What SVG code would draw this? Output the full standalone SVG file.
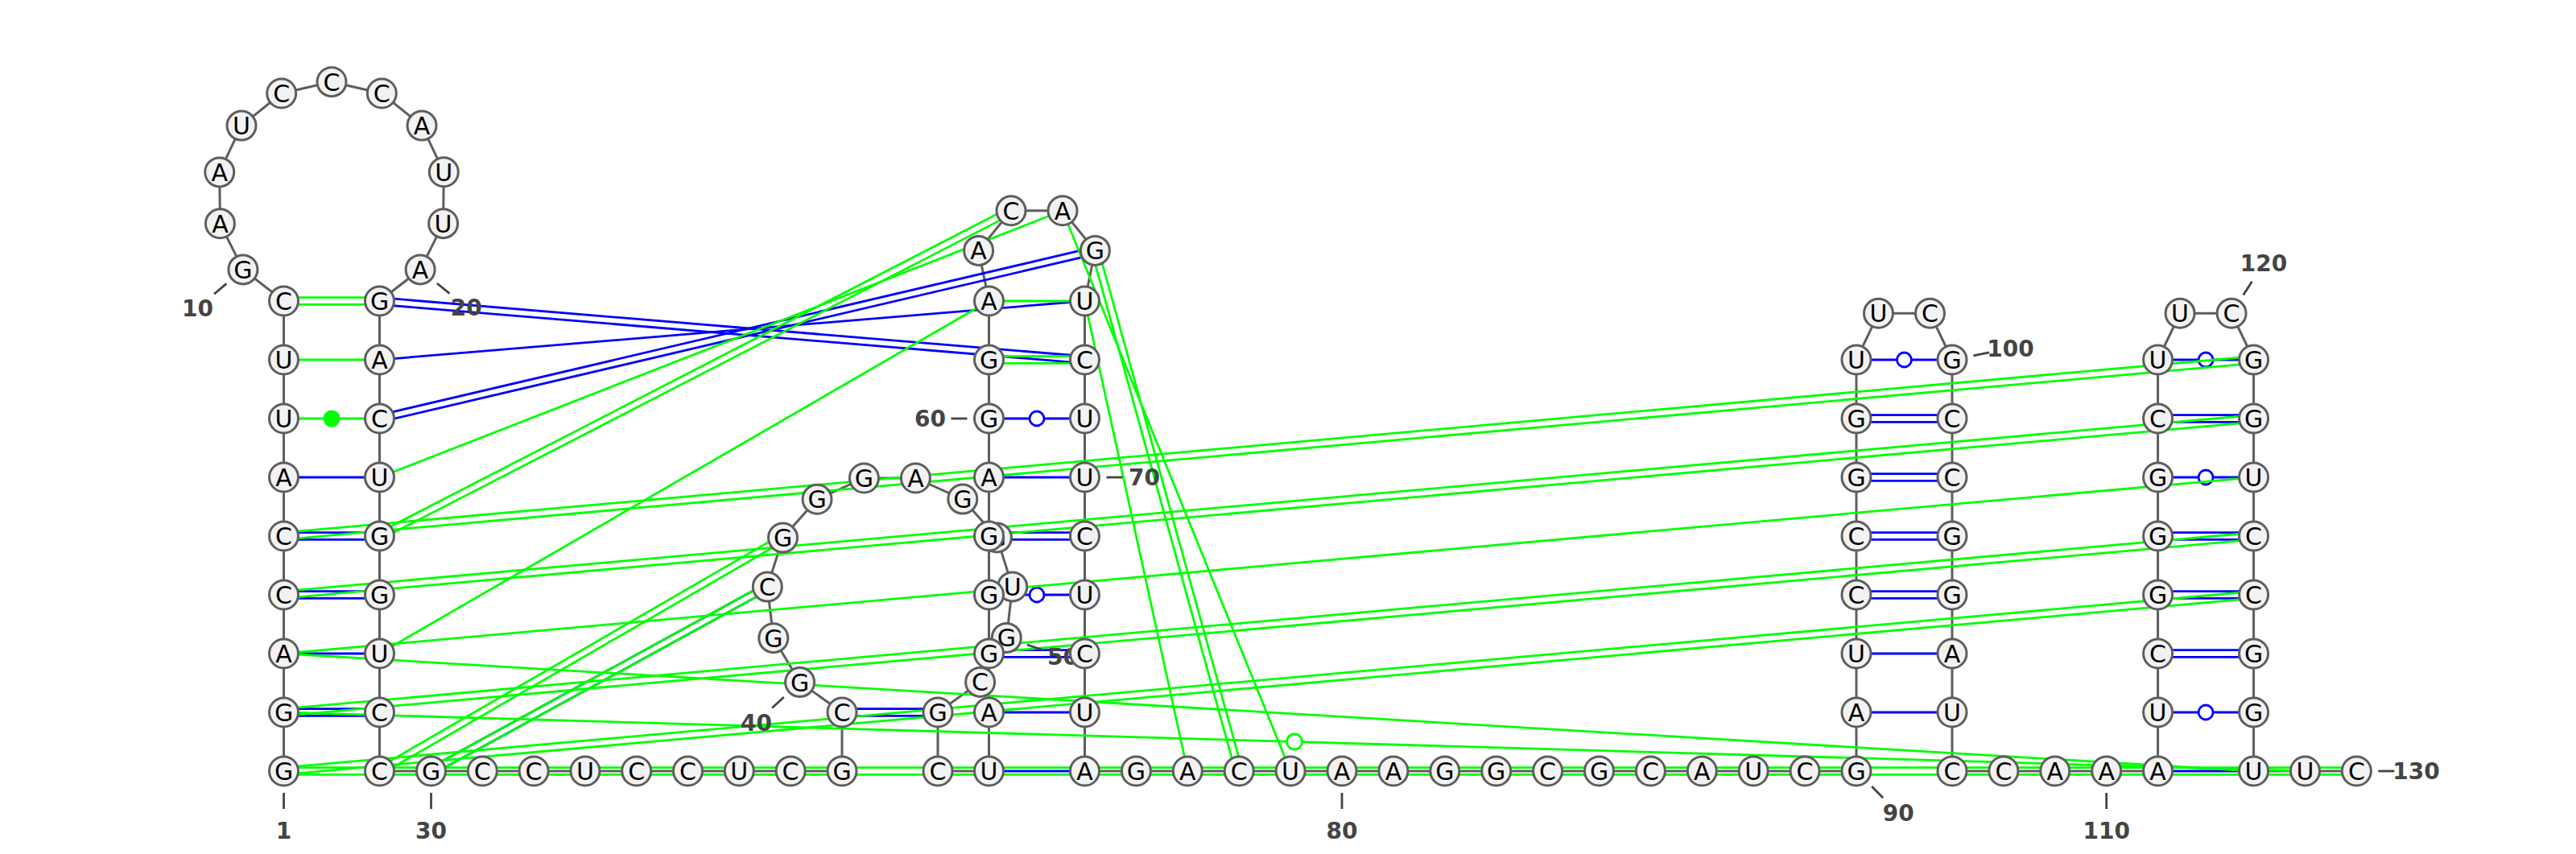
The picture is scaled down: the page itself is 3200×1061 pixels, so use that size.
<svg xmlns="http://www.w3.org/2000/svg" width="3200" height="1061" viewBox="0 0 3200 1061">
<style>
.bb{fill:none;stroke:#5e5e5e;stroke-width:3;stroke-linejoin:round}
.b line{stroke:#0000ff;stroke-width:2.8}
.g line{stroke:#00ff00;stroke-width:2.8}
.b circle{fill:#fff;stroke:#0000ff;stroke-width:2.8}
.g circle.o{fill:#fff;stroke:#00ff00;stroke-width:2.8}
.g circle.f{fill:#00ff00;stroke:none}
.tk line{stroke:#444;stroke-width:2.8}
.lb text{font-family:"DejaVu Sans","Liberation Sans",sans-serif;font-size:28px;font-weight:bold;fill:#444;text-anchor:middle}
.nd circle{fill:#f2f2f2;stroke:#5e5e5e;stroke-width:3}
.nd text{font-family:"DejaVu Sans","Liberation Sans",sans-serif;font-size:30px;fill:#000;text-anchor:middle}
</style>
<rect width="3200" height="1061" fill="#fff"/>
<g id="backbone">
<polyline class="bb" points="352.5,958 352.5,885 352.5,812 352.5,739 352.5,666 352.5,593 352.5,520 352.5,447 352.5,374 301.9,334.9 273.4,277.8 272.7,213.9 300,156.1 349.7,116 412,101.7 474.3,116 524,156.1 551.3,213.8 550.6,277.7 522.1,334.9 471.5,374 471.5,447 471.5,520 471.5,593 471.5,666 471.5,739 471.5,812 471.5,885 471.5,958 535.5,958 599.3,958 663.1,958 726.9,958 790.7,958 854.5,958 918.3,958 982.1,958 1046,958 1046,885 993.6,847.6 960.8,792.7 953.3,729.1 972.5,668.1 1015,620.3 1073.4,594 1137.4,594 1195.8,620.1 1238.4,667.9 1257.7,728.9 1250.3,792.4 1217.6,847.4 1165,885 1165,958 1228.5,958 1228.5,885 1228.5,812 1228.5,739 1228.5,666 1228.5,593 1228.5,520 1228.5,447 1228.5,374 1215.6,311.4 1256,261.8 1320,261.8 1360.4,311.4 1347.5,374 1347.5,447 1347.5,520 1347.5,593 1347.5,666 1347.5,739 1347.5,812 1347.5,885 1347.5,958 1411.4,958 1475.3,958 1539.2,958 1603.1,958 1667,958 1730.9,958 1794.8,958 1858.7,958 1922.6,958 1986.5,958 2050.4,958 2114.3,958 2178.2,958 2242.1,958 2306,958 2306,885 2306,812 2306,739 2306,666 2306,593 2306,520 2306,447 2333.5,389.3 2397.5,389.3 2425,447 2425,520 2425,593 2425,666 2425,739 2425,812 2425,885 2425,958 2488.9,958 2552.8,958 2616.7,958 2680.6,958 2680.6,885 2680.6,812 2680.6,739 2680.6,666 2680.6,593 2680.6,520 2680.6,447 2708.1,389.3 2772.1,389.3 2799.6,447 2799.6,520 2799.6,593 2799.6,666 2799.6,739 2799.6,812 2799.6,885 2799.6,958 2863.5,958 2927.4,958"/>
</g>
<g id="connectors">
<g class="b">
<line x1="352.5" y1="880.7" x2="471.5" y2="880.7"/><line x1="352.5" y1="889.3" x2="471.5" y2="889.3"/>
<line x1="352.5" y1="812" x2="471.5" y2="812"/>
<line x1="352.5" y1="734.7" x2="471.5" y2="734.7"/><line x1="352.5" y1="743.3" x2="471.5" y2="743.3"/>
<line x1="352.5" y1="661.7" x2="471.5" y2="661.7"/><line x1="352.5" y1="670.3" x2="471.5" y2="670.3"/>
<line x1="352.5" y1="593" x2="471.5" y2="593"/>
<line x1="471.14" y1="378.29" x2="1347.14" y2="451.29"/><line x1="471.86" y1="369.72" x2="1347.86" y2="442.72"/>
<line x1="471.5" y1="447" x2="1347.5" y2="374"/>
<line x1="472.48" y1="524.19" x2="1361.38" y2="315.59"/><line x1="470.52" y1="515.81" x2="1359.42" y2="307.21"/>
<line x1="537.57" y1="961.77" x2="955.37" y2="732.87"/><line x1="533.43" y1="954.23" x2="951.23" y2="725.33"/>
<line x1="1046" y1="880.7" x2="1165" y2="880.7"/><line x1="1046" y1="889.3" x2="1165" y2="889.3"/>
<line x1="1228.5" y1="958" x2="1347.5" y2="958"/>
<line x1="1228.5" y1="885" x2="1347.5" y2="885"/>
<line x1="1228.5" y1="807.7" x2="1347.5" y2="807.7"/><line x1="1228.5" y1="816.3" x2="1347.5" y2="816.3"/>
<line x1="1228.5" y1="739" x2="1347.5" y2="739"/><circle cx="1288" cy="739" r="9"/>
<line x1="1228.5" y1="661.7" x2="1347.5" y2="661.7"/><line x1="1228.5" y1="670.3" x2="1347.5" y2="670.3"/>
<line x1="1228.5" y1="593" x2="1347.5" y2="593"/>
<line x1="1228.5" y1="520" x2="1347.5" y2="520"/><circle cx="1288" cy="520" r="9"/>
<line x1="2306" y1="885" x2="2425" y2="885"/>
<line x1="2306" y1="812" x2="2425" y2="812"/>
<line x1="2306" y1="734.7" x2="2425" y2="734.7"/><line x1="2306" y1="743.3" x2="2425" y2="743.3"/>
<line x1="2306" y1="661.7" x2="2425" y2="661.7"/><line x1="2306" y1="670.3" x2="2425" y2="670.3"/>
<line x1="2306" y1="588.7" x2="2425" y2="588.7"/><line x1="2306" y1="597.3" x2="2425" y2="597.3"/>
<line x1="2306" y1="515.7" x2="2425" y2="515.7"/><line x1="2306" y1="524.3" x2="2425" y2="524.3"/>
<line x1="2306" y1="447" x2="2425" y2="447"/><circle cx="2365.5" cy="447" r="9"/>
<line x1="2680.6" y1="958" x2="2799.6" y2="958"/>
<line x1="2680.6" y1="885" x2="2799.6" y2="885"/><circle cx="2740.1" cy="885" r="9"/>
<line x1="2680.6" y1="807.7" x2="2799.6" y2="807.7"/><line x1="2680.6" y1="816.3" x2="2799.6" y2="816.3"/>
<line x1="2680.6" y1="734.7" x2="2799.6" y2="734.7"/><line x1="2680.6" y1="743.3" x2="2799.6" y2="743.3"/>
<line x1="2680.6" y1="661.7" x2="2799.6" y2="661.7"/><line x1="2680.6" y1="670.3" x2="2799.6" y2="670.3"/>
<line x1="2680.6" y1="593" x2="2799.6" y2="593"/><circle cx="2740.1" cy="593" r="9"/>
<line x1="2680.6" y1="515.7" x2="2799.6" y2="515.7"/><line x1="2680.6" y1="524.3" x2="2799.6" y2="524.3"/>
<line x1="2680.6" y1="447" x2="2799.6" y2="447"/><circle cx="2740.1" cy="447" r="9"/>
</g>
<g class="g">
<line x1="352.5" y1="369.7" x2="471.5" y2="369.7"/><line x1="352.5" y1="378.3" x2="471.5" y2="378.3"/>
<line x1="352.5" y1="447" x2="471.5" y2="447"/>
<line x1="352.5" y1="520" x2="471.5" y2="520"/><circle class="f" cx="412" cy="520" r="10.5"/>
<line x1="473.47" y1="669.82" x2="1257.97" y2="265.62"/><line x1="469.53" y1="662.18" x2="1254.03" y2="257.98"/>
<line x1="471.5" y1="593" x2="1320" y2="261.8"/>
<line x1="471.5" y1="812" x2="1228.5" y2="374"/>
<line x1="1228.5" y1="374" x2="1347.5" y2="374"/>
<line x1="1228.5" y1="442.7" x2="1347.5" y2="442.7"/><line x1="1228.5" y1="451.3" x2="1347.5" y2="451.3"/>
<line x1="1356.26" y1="312.55" x2="1535.06" y2="959.15"/><line x1="1364.54" y1="310.25" x2="1543.34" y2="956.85"/>
<line x1="1347.5" y1="374" x2="1475.3" y2="958"/>
<line x1="1320" y1="261.8" x2="1603.1" y2="958"/>
<line x1="352.88" y1="670.28" x2="2799.98" y2="451.28"/><line x1="352.12" y1="661.72" x2="2799.22" y2="442.72"/>
<line x1="352.88" y1="743.28" x2="2799.98" y2="524.28"/><line x1="352.12" y1="734.72" x2="2799.22" y2="515.72"/>
<line x1="352.5" y1="812" x2="2799.6" y2="593"/>
<line x1="352.88" y1="889.28" x2="2799.98" y2="670.28"/><line x1="352.12" y1="880.72" x2="2799.22" y2="661.72"/>
<line x1="352.88" y1="962.28" x2="2799.98" y2="743.28"/><line x1="352.12" y1="953.72" x2="2799.22" y2="734.72"/>
<line x1="352.5" y1="953.7" x2="2927.4" y2="953.7"/><line x1="352.5" y1="962.3" x2="2927.4" y2="962.3"/>
<line x1="352.5" y1="812" x2="2799.6" y2="958"/>
<line x1="352.5" y1="885" x2="2863.5" y2="958"/><circle class="o" cx="1608" cy="921.5" r="9.5"/>
<line x1="473.65" y1="961.72" x2="974.65" y2="671.82"/><line x1="469.35" y1="954.28" x2="970.35" y2="664.38"/>
<line x1="537.57" y1="961.77" x2="955.37" y2="732.87"/><line x1="533.43" y1="954.23" x2="951.23" y2="725.33"/>
</g>
</g>
<g id="labels">
<g class="tk">
<line x1="352.5" y1="985" x2="352.5" y2="1005"/>
<line x1="281.3" y1="352.4" x2="266" y2="365.3"/>
<line x1="542.9" y1="352" x2="558.4" y2="364.7"/>
<line x1="535.5" y1="985" x2="535.5" y2="1005"/>
<line x1="973.8" y1="866" x2="959.2" y2="879.6"/>
<line x1="1275.9" y1="801" x2="1294.8" y2="807.4"/>
<line x1="1201.5" y1="520" x2="1181.5" y2="520"/>
<line x1="1374.5" y1="593" x2="1394.5" y2="593"/>
<line x1="1667" y1="985" x2="1667" y2="1005"/>
<line x1="2325.1" y1="977.1" x2="2339.2" y2="991.2"/>
<line x1="2451.5" y1="441.8" x2="2471.1" y2="437.9"/>
<line x1="2616.7" y1="985" x2="2616.7" y2="1005"/>
<line x1="2786.7" y1="366.6" x2="2797.5" y2="349.7"/>
<line x1="2954.4" y1="958" x2="2974.4" y2="958"/>
</g>
<g class="lb">
<text x="352.5" y="1042">1</text>
<text x="245.4" y="392.8">10</text>
<text x="579.2" y="391.9">20</text>
<text x="535.5" y="1042">30</text>
<text x="939.4" y="908">40</text>
<text x="1320.4" y="826.1">50</text>
<text x="1155.5" y="530">60</text>
<text x="1421.5" y="603">70</text>
<text x="1667" y="1042">80</text>
<text x="2358.3" y="1020.3">90</text>
<text x="2497.6" y="442.6">100</text>
<text x="2616.7" y="1042">110</text>
<text x="2812.1" y="337">120</text>
<text x="3001.4" y="968">130</text>
</g>
</g>
<g id="nodes" class="nd">
<g id="n1"><circle cx="352.5" cy="958" r="18"/><text x="352.5" y="969">G</text></g>
<g id="n2"><circle cx="352.5" cy="885" r="18"/><text x="352.5" y="896">G</text></g>
<g id="n3"><circle cx="352.5" cy="812" r="18"/><text x="352.5" y="823">A</text></g>
<g id="n4"><circle cx="352.5" cy="739" r="18"/><text x="352.5" y="750">C</text></g>
<g id="n5"><circle cx="352.5" cy="666" r="18"/><text x="352.5" y="677">C</text></g>
<g id="n6"><circle cx="352.5" cy="593" r="18"/><text x="352.5" y="604">A</text></g>
<g id="n7"><circle cx="352.5" cy="520" r="18"/><text x="352.5" y="531">U</text></g>
<g id="n8"><circle cx="352.5" cy="447" r="18"/><text x="352.5" y="458">U</text></g>
<g id="n9"><circle cx="352.5" cy="374" r="18"/><text x="352.5" y="385">C</text></g>
<g id="n10"><circle cx="301.9" cy="334.9" r="18"/><text x="301.9" y="345.9">G</text></g>
<g id="n11"><circle cx="273.4" cy="277.8" r="18"/><text x="273.4" y="288.8">A</text></g>
<g id="n12"><circle cx="272.7" cy="213.9" r="18"/><text x="272.7" y="224.9">A</text></g>
<g id="n13"><circle cx="300" cy="156.1" r="18"/><text x="300" y="167.1">U</text></g>
<g id="n14"><circle cx="349.7" cy="116" r="18"/><text x="349.7" y="127">C</text></g>
<g id="n15"><circle cx="412" cy="101.7" r="18"/><text x="412" y="112.7">C</text></g>
<g id="n16"><circle cx="474.3" cy="116" r="18"/><text x="474.3" y="127">C</text></g>
<g id="n17"><circle cx="524" cy="156.1" r="18"/><text x="524" y="167.1">A</text></g>
<g id="n18"><circle cx="551.3" cy="213.8" r="18"/><text x="551.3" y="224.8">U</text></g>
<g id="n19"><circle cx="550.6" cy="277.7" r="18"/><text x="550.6" y="288.7">U</text></g>
<g id="n20"><circle cx="522.1" cy="334.9" r="18"/><text x="522.1" y="345.9">A</text></g>
<g id="n21"><circle cx="471.5" cy="374" r="18"/><text x="471.5" y="385">G</text></g>
<g id="n22"><circle cx="471.5" cy="447" r="18"/><text x="471.5" y="458">A</text></g>
<g id="n23"><circle cx="471.5" cy="520" r="18"/><text x="471.5" y="531">C</text></g>
<g id="n24"><circle cx="471.5" cy="593" r="18"/><text x="471.5" y="604">U</text></g>
<g id="n25"><circle cx="471.5" cy="666" r="18"/><text x="471.5" y="677">G</text></g>
<g id="n26"><circle cx="471.5" cy="739" r="18"/><text x="471.5" y="750">G</text></g>
<g id="n27"><circle cx="471.5" cy="812" r="18"/><text x="471.5" y="823">U</text></g>
<g id="n28"><circle cx="471.5" cy="885" r="18"/><text x="471.5" y="896">C</text></g>
<g id="n29"><circle cx="471.5" cy="958" r="18"/><text x="471.5" y="969">C</text></g>
<g id="n30"><circle cx="535.5" cy="958" r="18"/><text x="535.5" y="969">G</text></g>
<g id="n31"><circle cx="599.3" cy="958" r="18"/><text x="599.3" y="969">C</text></g>
<g id="n32"><circle cx="663.1" cy="958" r="18"/><text x="663.1" y="969">C</text></g>
<g id="n33"><circle cx="726.9" cy="958" r="18"/><text x="726.9" y="969">U</text></g>
<g id="n34"><circle cx="790.7" cy="958" r="18"/><text x="790.7" y="969">C</text></g>
<g id="n35"><circle cx="854.5" cy="958" r="18"/><text x="854.5" y="969">C</text></g>
<g id="n36"><circle cx="918.3" cy="958" r="18"/><text x="918.3" y="969">U</text></g>
<g id="n37"><circle cx="982.1" cy="958" r="18"/><text x="982.1" y="969">C</text></g>
<g id="n38"><circle cx="1046" cy="958" r="18"/><text x="1046" y="969">G</text></g>
<g id="n39"><circle cx="1046" cy="885" r="18"/><text x="1046" y="896">C</text></g>
<g id="n40"><circle cx="993.6" cy="847.6" r="18"/><text x="993.6" y="858.6">G</text></g>
<g id="n41"><circle cx="960.8" cy="792.7" r="18"/><text x="960.8" y="803.7">G</text></g>
<g id="n42"><circle cx="953.3" cy="729.1" r="18"/><text x="953.3" y="740.1">C</text></g>
<g id="n43"><circle cx="972.5" cy="668.1" r="18"/><text x="972.5" y="679.1">G</text></g>
<g id="n44"><circle cx="1015" cy="620.3" r="18"/><text x="1015" y="631.3">G</text></g>
<g id="n45"><circle cx="1073.4" cy="594" r="18"/><text x="1073.4" y="605">G</text></g>
<g id="n46"><circle cx="1137.4" cy="594" r="18"/><text x="1137.4" y="605">A</text></g>
<g id="n47"><circle cx="1195.8" cy="620.1" r="18"/><text x="1195.8" y="631.1">G</text></g>
<g id="n48"><circle cx="1238.4" cy="667.9" r="18"/><text x="1238.4" y="678.9">G</text></g>
<g id="n49"><circle cx="1257.7" cy="728.9" r="18"/><text x="1257.7" y="739.9">U</text></g>
<g id="n50"><circle cx="1250.3" cy="792.4" r="18"/><text x="1250.3" y="803.4">G</text></g>
<g id="n51"><circle cx="1217.6" cy="847.4" r="18"/><text x="1217.6" y="858.4">C</text></g>
<g id="n52"><circle cx="1165" cy="885" r="18"/><text x="1165" y="896">G</text></g>
<g id="n53"><circle cx="1165" cy="958" r="18"/><text x="1165" y="969">C</text></g>
<g id="n54"><circle cx="1228.5" cy="958" r="18"/><text x="1228.5" y="969">U</text></g>
<g id="n55"><circle cx="1228.5" cy="885" r="18"/><text x="1228.5" y="896">A</text></g>
<g id="n56"><circle cx="1228.5" cy="812" r="18"/><text x="1228.5" y="823">G</text></g>
<g id="n57"><circle cx="1228.5" cy="739" r="18"/><text x="1228.5" y="750">G</text></g>
<g id="n58"><circle cx="1228.5" cy="666" r="18"/><text x="1228.5" y="677">G</text></g>
<g id="n59"><circle cx="1228.5" cy="593" r="18"/><text x="1228.5" y="604">A</text></g>
<g id="n60"><circle cx="1228.5" cy="520" r="18"/><text x="1228.5" y="531">G</text></g>
<g id="n61"><circle cx="1228.5" cy="447" r="18"/><text x="1228.5" y="458">G</text></g>
<g id="n62"><circle cx="1228.5" cy="374" r="18"/><text x="1228.5" y="385">A</text></g>
<g id="n63"><circle cx="1215.6" cy="311.4" r="18"/><text x="1215.6" y="322.4">A</text></g>
<g id="n64"><circle cx="1256" cy="261.8" r="18"/><text x="1256" y="272.8">C</text></g>
<g id="n65"><circle cx="1320" cy="261.8" r="18"/><text x="1320" y="272.8">A</text></g>
<g id="n66"><circle cx="1360.4" cy="311.4" r="18"/><text x="1360.4" y="322.4">G</text></g>
<g id="n67"><circle cx="1347.5" cy="374" r="18"/><text x="1347.5" y="385">U</text></g>
<g id="n68"><circle cx="1347.5" cy="447" r="18"/><text x="1347.5" y="458">C</text></g>
<g id="n69"><circle cx="1347.5" cy="520" r="18"/><text x="1347.5" y="531">U</text></g>
<g id="n70"><circle cx="1347.5" cy="593" r="18"/><text x="1347.5" y="604">U</text></g>
<g id="n71"><circle cx="1347.5" cy="666" r="18"/><text x="1347.5" y="677">C</text></g>
<g id="n72"><circle cx="1347.5" cy="739" r="18"/><text x="1347.5" y="750">U</text></g>
<g id="n73"><circle cx="1347.5" cy="812" r="18"/><text x="1347.5" y="823">C</text></g>
<g id="n74"><circle cx="1347.5" cy="885" r="18"/><text x="1347.5" y="896">U</text></g>
<g id="n75"><circle cx="1347.5" cy="958" r="18"/><text x="1347.5" y="969">A</text></g>
<g id="n76"><circle cx="1411.4" cy="958" r="18"/><text x="1411.4" y="969">G</text></g>
<g id="n77"><circle cx="1475.3" cy="958" r="18"/><text x="1475.3" y="969">A</text></g>
<g id="n78"><circle cx="1539.2" cy="958" r="18"/><text x="1539.2" y="969">C</text></g>
<g id="n79"><circle cx="1603.1" cy="958" r="18"/><text x="1603.1" y="969">U</text></g>
<g id="n80"><circle cx="1667" cy="958" r="18"/><text x="1667" y="969">A</text></g>
<g id="n81"><circle cx="1730.9" cy="958" r="18"/><text x="1730.9" y="969">A</text></g>
<g id="n82"><circle cx="1794.8" cy="958" r="18"/><text x="1794.8" y="969">G</text></g>
<g id="n83"><circle cx="1858.7" cy="958" r="18"/><text x="1858.7" y="969">G</text></g>
<g id="n84"><circle cx="1922.6" cy="958" r="18"/><text x="1922.6" y="969">C</text></g>
<g id="n85"><circle cx="1986.5" cy="958" r="18"/><text x="1986.5" y="969">G</text></g>
<g id="n86"><circle cx="2050.4" cy="958" r="18"/><text x="2050.4" y="969">C</text></g>
<g id="n87"><circle cx="2114.3" cy="958" r="18"/><text x="2114.3" y="969">A</text></g>
<g id="n88"><circle cx="2178.2" cy="958" r="18"/><text x="2178.2" y="969">U</text></g>
<g id="n89"><circle cx="2242.1" cy="958" r="18"/><text x="2242.1" y="969">C</text></g>
<g id="n90"><circle cx="2306" cy="958" r="18"/><text x="2306" y="969">G</text></g>
<g id="n91"><circle cx="2306" cy="885" r="18"/><text x="2306" y="896">A</text></g>
<g id="n92"><circle cx="2306" cy="812" r="18"/><text x="2306" y="823">U</text></g>
<g id="n93"><circle cx="2306" cy="739" r="18"/><text x="2306" y="750">C</text></g>
<g id="n94"><circle cx="2306" cy="666" r="18"/><text x="2306" y="677">C</text></g>
<g id="n95"><circle cx="2306" cy="593" r="18"/><text x="2306" y="604">G</text></g>
<g id="n96"><circle cx="2306" cy="520" r="18"/><text x="2306" y="531">G</text></g>
<g id="n97"><circle cx="2306" cy="447" r="18"/><text x="2306" y="458">U</text></g>
<g id="n98"><circle cx="2333.5" cy="389.3" r="18"/><text x="2333.5" y="400.3">U</text></g>
<g id="n99"><circle cx="2397.5" cy="389.3" r="18"/><text x="2397.5" y="400.3">C</text></g>
<g id="n100"><circle cx="2425" cy="447" r="18"/><text x="2425" y="458">G</text></g>
<g id="n101"><circle cx="2425" cy="520" r="18"/><text x="2425" y="531">C</text></g>
<g id="n102"><circle cx="2425" cy="593" r="18"/><text x="2425" y="604">C</text></g>
<g id="n103"><circle cx="2425" cy="666" r="18"/><text x="2425" y="677">G</text></g>
<g id="n104"><circle cx="2425" cy="739" r="18"/><text x="2425" y="750">G</text></g>
<g id="n105"><circle cx="2425" cy="812" r="18"/><text x="2425" y="823">A</text></g>
<g id="n106"><circle cx="2425" cy="885" r="18"/><text x="2425" y="896">U</text></g>
<g id="n107"><circle cx="2425" cy="958" r="18"/><text x="2425" y="969">C</text></g>
<g id="n108"><circle cx="2488.9" cy="958" r="18"/><text x="2488.9" y="969">C</text></g>
<g id="n109"><circle cx="2552.8" cy="958" r="18"/><text x="2552.8" y="969">A</text></g>
<g id="n110"><circle cx="2616.7" cy="958" r="18"/><text x="2616.7" y="969">A</text></g>
<g id="n111"><circle cx="2680.6" cy="958" r="18"/><text x="2680.6" y="969">A</text></g>
<g id="n112"><circle cx="2680.6" cy="885" r="18"/><text x="2680.6" y="896">U</text></g>
<g id="n113"><circle cx="2680.6" cy="812" r="18"/><text x="2680.6" y="823">C</text></g>
<g id="n114"><circle cx="2680.6" cy="739" r="18"/><text x="2680.6" y="750">G</text></g>
<g id="n115"><circle cx="2680.6" cy="666" r="18"/><text x="2680.6" y="677">G</text></g>
<g id="n116"><circle cx="2680.6" cy="593" r="18"/><text x="2680.6" y="604">G</text></g>
<g id="n117"><circle cx="2680.6" cy="520" r="18"/><text x="2680.6" y="531">C</text></g>
<g id="n118"><circle cx="2680.6" cy="447" r="18"/><text x="2680.6" y="458">U</text></g>
<g id="n119"><circle cx="2708.1" cy="389.3" r="18"/><text x="2708.1" y="400.3">U</text></g>
<g id="n120"><circle cx="2772.1" cy="389.3" r="18"/><text x="2772.1" y="400.3">C</text></g>
<g id="n121"><circle cx="2799.6" cy="447" r="18"/><text x="2799.6" y="458">G</text></g>
<g id="n122"><circle cx="2799.6" cy="520" r="18"/><text x="2799.6" y="531">G</text></g>
<g id="n123"><circle cx="2799.6" cy="593" r="18"/><text x="2799.6" y="604">U</text></g>
<g id="n124"><circle cx="2799.6" cy="666" r="18"/><text x="2799.6" y="677">C</text></g>
<g id="n125"><circle cx="2799.6" cy="739" r="18"/><text x="2799.6" y="750">C</text></g>
<g id="n126"><circle cx="2799.6" cy="812" r="18"/><text x="2799.6" y="823">G</text></g>
<g id="n127"><circle cx="2799.6" cy="885" r="18"/><text x="2799.6" y="896">G</text></g>
<g id="n128"><circle cx="2799.6" cy="958" r="18"/><text x="2799.6" y="969">U</text></g>
<g id="n129"><circle cx="2863.5" cy="958" r="18"/><text x="2863.5" y="969">U</text></g>
<g id="n130"><circle cx="2927.4" cy="958" r="18"/><text x="2927.4" y="969">C</text></g>
</g>
</svg>
